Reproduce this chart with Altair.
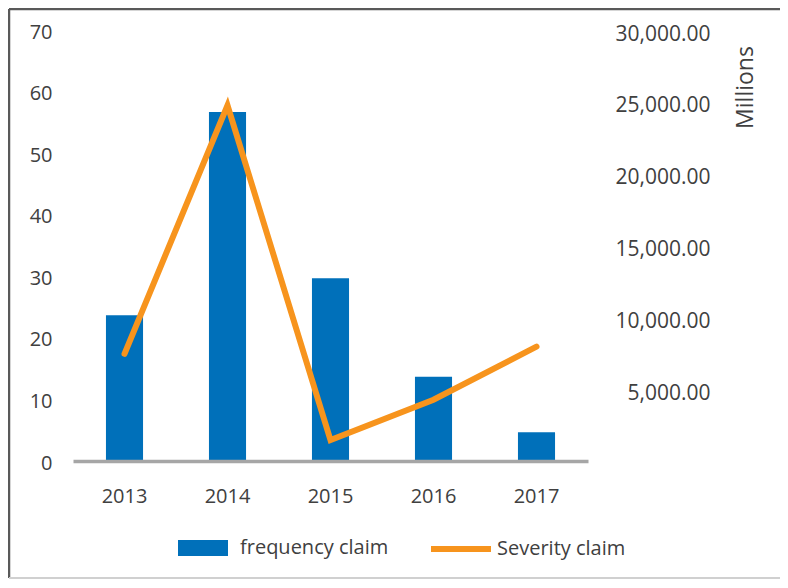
import altair as alt
import pandas as pd

years = ["2013", "2014", "2015", "2016", "2017"]
frequency = [24, 57, 30, 14, 5]
severity = [7600, 24900, 1600, 4400, 8100]
left_ticks = [0, 10, 20, 30, 40, 50, 60, 70]
right_ticks = [5000, 10000, 15000, 20000, 25000, 30000]

FONT = "Open Sans"
TXT = "#404040"
BLUE = "#0070BA"
ORANGE = "#F7941D"

df = pd.DataFrame({
    "year": years,
    "frequency": frequency,
    "severity": severity,
    "fs": "frequency claim",
    "ss": "Severity claim",
})

xenc = alt.X(
    "year:N",
    scale=alt.Scale(paddingInner=0.64, paddingOuter=0.32),
    axis=alt.Axis(
        title=None, labelAngle=0, ticks=False, domainColor="#A6A6A6",
        domainWidth=3.5, labelPadding=25, labelFontSize=20, labelColor=TXT,
        labelFont=FONT, offset=-2, zindex=1,
    ),
)

bars = alt.Chart(df).mark_bar().encode(
    x=xenc,
    y=alt.Y(
        "frequency:Q",
        scale=alt.Scale(domain=[0, 70], nice=False),
        axis=alt.Axis(
            title=None, values=left_ticks, grid=False, domain=False,
            ticks=False, tickSize=0, labelPadding=21, labelFontSize=20,
            labelColor=TXT, labelFont=FONT,
        ),
    ),
    fill=alt.Fill(
        "fs:N",
        scale=alt.Scale(range=[BLUE]),
        legend=alt.Legend(
            title=None, orient="none", legendX=105, legendY=491,
            symbolType="M-1,-0.32H1V0.32H-1Z", symbolSize=2500,
            symbolStrokeWidth=0, labelOffset=12, padding=0,
            labelFontSize=20, labelColor=TXT, labelFont=FONT,
        ),
    ),
)

line = alt.Chart(df).mark_line(strokeWidth=6, strokeCap="round").encode(
    x=xenc,
    y=alt.Y(
        "severity:Q",
        scale=alt.Scale(domain=[0, 30000], nice=False),
        axis=alt.Axis(
            orient="right", values=right_ticks, format=",.2f",
            title="Millions", titleAngle=270, titleX=157, titleY=55,
            titleAlign="center", titleBaseline="middle", titleFontSize=23,
            titleFontWeight="normal", titleColor=TXT, titleFont=FONT,
            grid=False, domain=False, ticks=False, tickSize=0,
            labelAlign="right", labelPadding=122, labelFontSize=21,
            labelColor=TXT, labelFont=FONT, labelOffset=2,
        ),
    ),
    stroke=alt.Stroke(
        "ss:N",
        scale=alt.Scale(range=[ORANGE]),
        legend=alt.Legend(
            title=None, orient="none", legendX=355, legendY=484,
            symbolType="stroke", symbolSize=3600, symbolStrokeWidth=6,
            labelOffset=3, padding=0,
            labelFontSize=20, labelColor=TXT, labelFont=FONT,
        ),
    ),
)

frame = pd.DataFrame({"k": [0]})
top_border = alt.Chart(frame).mark_rule(color="#595959", strokeWidth=2.5).encode(
    x=alt.value(-64), x2=alt.value(707), y=alt.value(-23)
)
left_border = alt.Chart(frame).mark_rule(color="#595959", strokeWidth=2.5).encode(
    x=alt.value(-64), y=alt.value(-23), y2=alt.value(546)
)
bottom_border = alt.Chart(frame).mark_rule(color="#D0D0D0", strokeWidth=2).encode(
    x=alt.value(-64), x2=alt.value(707), y=alt.value(546)
)

chart = (
    alt.layer(bars, line, top_border, left_border, bottom_border)
    .resolve_scale(y="independent", fill="independent", stroke="independent")
    .properties(
        width=515, height=431,
        autosize=alt.AutoSizeParams(type="none"),
        padding={"left": 65, "top": 24, "right": 192, "bottom": 117},
    )
    .configure(background="transparent")
    .configure_view(stroke=None)
)

chart.save("out.html", embed_options={"renderer": "svg", "actions": False})
